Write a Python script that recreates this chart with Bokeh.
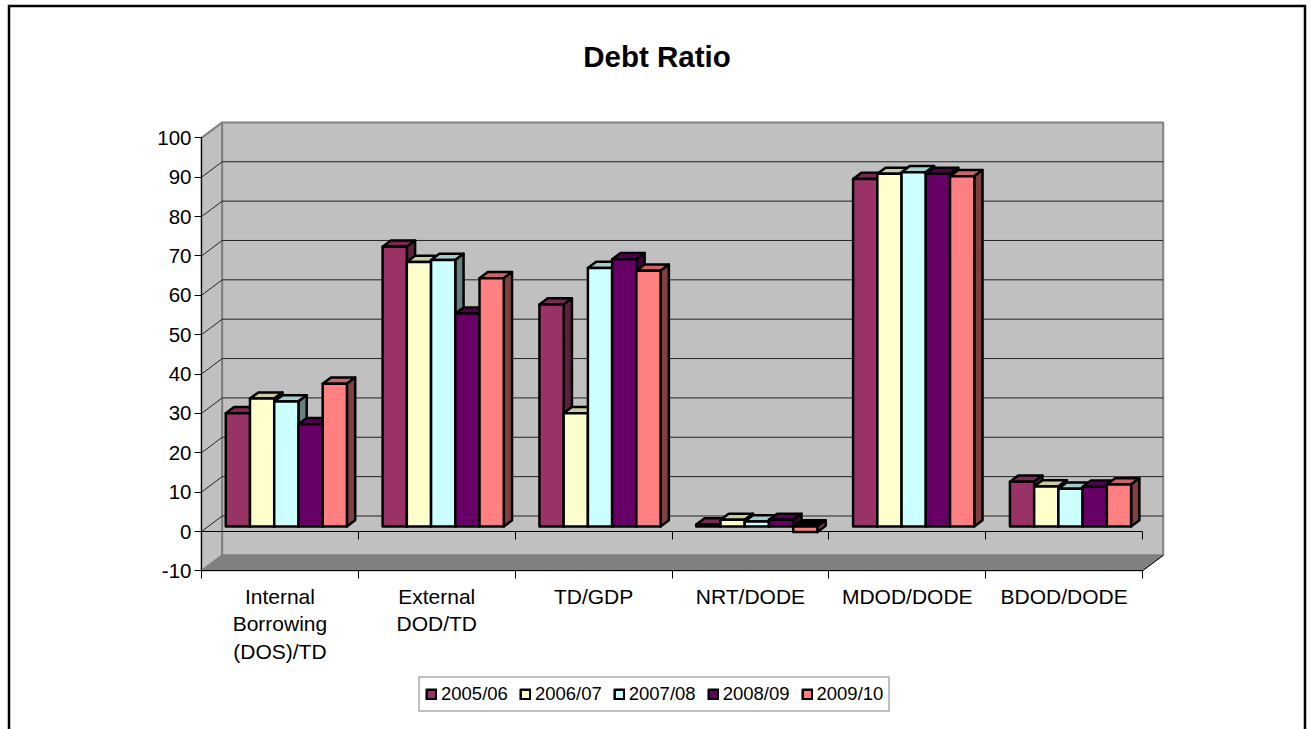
from bokeh.plotting import figure
from bokeh.models import LinearAxis, FixedTicker, Range1d, Legend, LegendItem, Label
from bokeh.embed import file_html
from bokeh.resources import INLINE

categories = ["Internal\nBorrowing\n(DOS)/TD", "External\nDOD/TD", "TD/GDP", "NRT/DODE", "MDOD/DODE", "BDOD/DODE"]
series_names = ["2005/06", "2006/07", "2007/08", "2008/09", "2009/10"]
v_2005 = [28.8, 71.1, 56.4, 0.5, 88.3, 11.4]
v_2006 = [32.5, 67.2, 28.8, 1.7, 89.6, 10.2]
v_2007 = [31.8, 67.7, 65.7, 1.3, 90.0, 9.6]
v_2008 = [26.0, 54.1, 67.9, 1.7, 89.6, 10.1]
v_2009 = [36.3, 63.1, 65.0, -1.4, 89.0, 10.7]
series = [v_2005, v_2006, v_2007, v_2008, v_2009]
front_colors = ["#993366", "#FFFFCC", "#CCFFFF", "#660066", "#FF8080"]
top_colors = ["#7A2952", "#CCCCA3", "#A3CCCC", "#520052", "#CC6666"]
side_colors = ["#5C1F3D", "#80806A", "#668080", "#3D003D", "#804040"]
y_ticks = list(range(-10, 101, 10))

# pixel calibration of the chart's front plane
PX_CAT = 941 / 6
PX_UNIT = 3.936
FIG_W, FIG_H = 1311, 729
X0_PX, Y0_PX = 201, 531
DX = 20.7 / PX_CAT      # full depth of the box in category units
DY = 15.5 / PX_UNIT     # full depth of the box in value units
N = len(categories)
BAR_W = 0.1545
BAR_START = 0.1125
F_FRONT, F_BACK = 0.32, 0.72

x_lo, x_hi = -X0_PX / PX_CAT, (FIG_W - X0_PX) / PX_CAT
y_lo, y_hi = (Y0_PX - FIG_H) / PX_UNIT, Y0_PX / PX_UNIT

p = figure(width=FIG_W, height=FIG_H, output_backend="svg", toolbar_location=None,
           x_axis_location=None, y_axis_location=None, min_border=0, margin=0,
           x_range=Range1d(x_lo, x_hi), y_range=Range1d(y_lo, y_hi),
           background_fill_color="white", border_fill_color="white", outline_line_color=None)
p.grid.visible = False

# chart frame (no bottom edge: it is cut by the picture)
frame_l = (8.5 - X0_PX) / PX_CAT
frame_r = (1304.5 - X0_PX) / PX_CAT
frame_t = (Y0_PX - 5.5) / PX_UNIT
p.line([frame_l, frame_l, frame_r, frame_r], [y_lo, frame_t, frame_t, y_lo],
       line_color="black", line_width=2.5, line_join="miter")

ymin, ymax = y_ticks[0], y_ticks[-1]
# floor, left wall, back wall
p.patch([0, N, N + DX, DX], [ymin, ymin, ymin + DY, ymin + DY], fill_color="#808080", line_color="#808080", line_width=1)
p.patch([0, DX, DX, 0], [ymin, ymin + DY, ymax + DY, ymax], fill_color="#C0C0C0", line_color="#808080", line_width=2)
p.patch([DX, N + DX, N + DX, DX], [ymin + DY, ymin + DY, ymax + DY, ymax + DY], fill_color="#C0C0C0", line_color="#808080", line_width=2)

# gridlines on back wall and left wall
grid = y_ticks[1:-1]
p.segment([DX] * len(grid), [g + DY for g in grid], [N + DX] * len(grid), [g + DY for g in grid], line_color="#222222", line_width=1)
p.segment([0] * len(grid), grid, [DX] * len(grid), [g + DY for g in grid], line_color="#222222", line_width=1)
p.line([N, N + DX], [ymin, ymin + DY], line_color="black", line_width=1)

legend_items = []
for j, vals in enumerate(series):
    lefts = [i + BAR_START + j * BAR_W + F_FRONT * DX for i in range(N)]
    rights = [l + BAR_W for l in lefts]
    base = F_FRONT * DY
    fd_x = (F_BACK - F_FRONT) * DX
    fd_y = (F_BACK - F_FRONT) * DY
    tops = [max(v, 0) + base for v in vals]
    bots = [min(v, 0) + base for v in vals]
    top_fill = [top_colors[j] if v >= 0 else "#000000" for v in vals]
    p.patches([[l, r, r + fd_x, l + fd_x] for l, r in zip(lefts, rights)],
              [[t, t, t + fd_y, t + fd_y] for t in tops],
              fill_color=top_fill, line_color="black", line_width=2.5, line_join="round")
    p.patches([[r, r + fd_x, r + fd_x, r] for r in rights],
              [[b, b + fd_y, t + fd_y, t] for b, t in zip(bots, tops)],
              fill_color=side_colors[j], line_color="black", line_width=2.5, line_join="round")
    q = p.quad(left=lefts, right=rights, bottom=bots, top=tops,
               fill_color=front_colors[j], line_color="black", line_width=2.5, line_join="round")
    legend_items.append(LegendItem(label=series_names[j], renderers=[q]))

# value axis
FONT = "Liberation Sans"
yax = LinearAxis(ticker=FixedTicker(ticks=y_ticks), fixed_location=0, bounds=(ymin, ymax),
                 major_label_overrides={t: str(t) for t in y_ticks})
yax.axis_line_color = "black"; yax.axis_line_width = 1
yax.major_tick_line_color = "black"; yax.major_tick_out = 7; yax.major_tick_in = 0
yax.minor_tick_line_color = None
yax.major_label_text_font = FONT; yax.major_label_text_font_size = "20.5px"; yax.major_label_text_color = "black"
yax.major_label_standoff = 3
p.add_layout(yax, "left")

# category axes: tick marks on the zero plane and on the floor edge, labels on the floor edge
edge_ticks = list(range(N + 1))
for loc in (0, ymin):
    ax = LinearAxis(ticker=FixedTicker(ticks=edge_ticks), fixed_location=loc, bounds=(0, N))
    ax.axis_line_color = "black"; ax.axis_line_width = 1
    ax.major_tick_line_color = "black"; ax.major_tick_out = 8; ax.major_tick_in = 0
    ax.minor_tick_line_color = None
    ax.major_label_text_font_size = "0px"; ax.major_label_text_color = None
    p.add_layout(ax, "below")

centers = [i + 0.5 for i in range(N)]
lab = LinearAxis(ticker=FixedTicker(ticks=centers), fixed_location=ymin, bounds=(0, N),
                 major_label_overrides={c: t for c, t in zip(centers, categories)})
lab.axis_line_color = None; lab.major_tick_line_color = None; lab.minor_tick_line_color = None
lab.major_label_text_font = FONT; lab.major_label_text_font_size = "21px"; lab.major_label_text_color = "black"
lab.major_label_standoff = 8
p.add_layout(lab, "below")

# title
p.add_layout(Label(x=(656.5 - X0_PX) / PX_CAT, y=(Y0_PX - 56) / PX_UNIT, text="Debt Ratio",
                   text_font=FONT, text_font_size="29.5px", text_font_style="bold",
                   text_align="center", text_baseline="middle", text_color="black"))

legend = Legend(items=legend_items, orientation="horizontal", location=(418, FIG_H - 711.5),
                label_text_font=FONT, label_text_font_size="18.5px", label_text_color="black",
                glyph_width=12, glyph_height=12, label_standoff=4, spacing=11, padding=5, margin=0,
                border_line_color="#808080", border_line_width=2, background_fill_color="white", background_fill_alpha=1)
p.add_layout(legend, "center")

open("out.html", "w").write(file_html(p, INLINE))
